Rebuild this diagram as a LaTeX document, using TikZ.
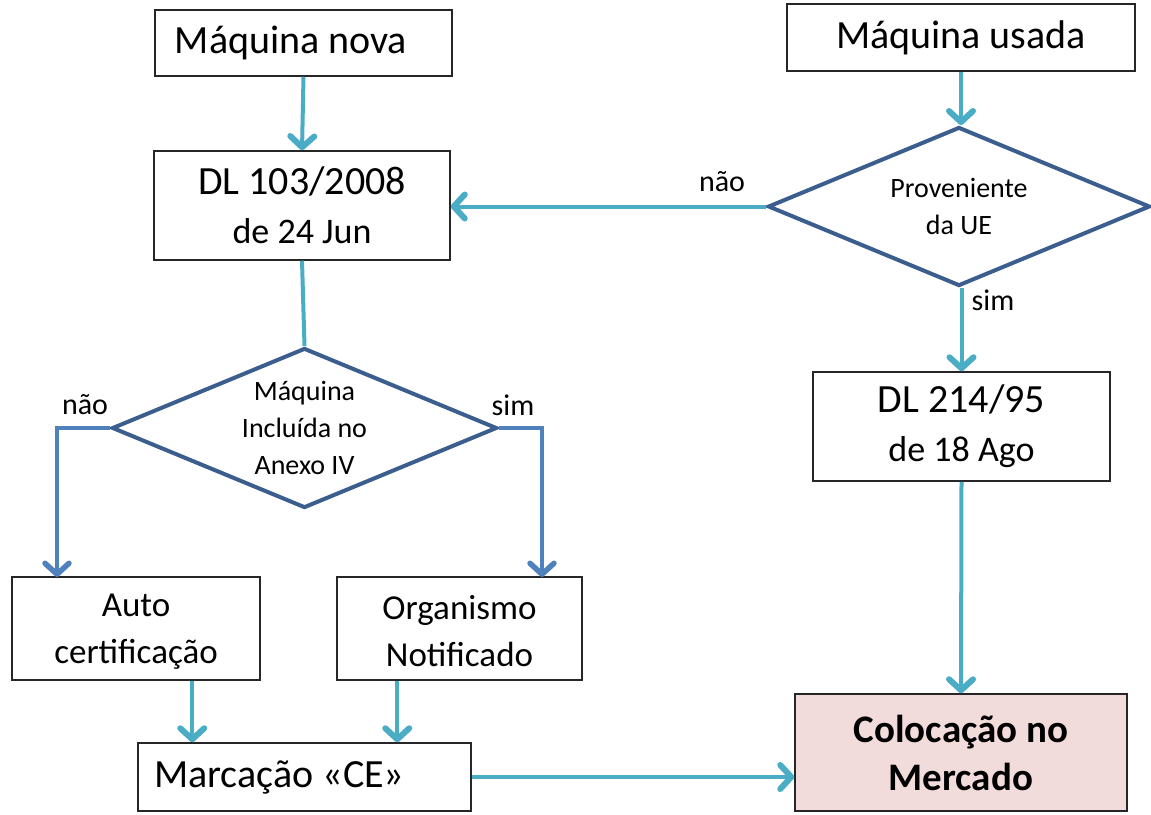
\documentclass[tikz,border=0pt]{standalone}
\usepackage{fontspec}
\setmainfont{Carlito}
\usetikzlibrary{arrows.meta,shapes.geometric,calc}
\definecolor{teal}{HTML}{4BACC6}
\definecolor{dblue}{HTML}{3B5E8E}
\definecolor{mblue}{HTML}{4F81BD}
\definecolor{pink}{HTML}{F2DCDB}
\begin{document}
\begin{tikzpicture}[x=1pt,y=-1pt,
  box/.style={draw=black!85,line width=1.5pt,rectangle,inner sep=0pt,align=center},
  dia/.style={draw=dblue,line width=4pt,diamond,inner sep=0pt},
  conn/.style={draw=teal,line width=4pt,-{Straight Barb[length=11pt,width=24pt,line width=6pt,round]}},
  plain/.style={draw=teal,line width=4pt},
  bconn/.style={draw=mblue,line width=3.5pt,-{Straight Barb[length=11pt,width=24pt,line width=5.5pt,round]}},
  big/.style={font=\fontsize{40}{44}\selectfont},
  mid/.style={font=\fontsize{35}{47}\selectfont},
  dltxt/.style={font=\fontsize{36}{49}\selectfont},
  small/.style={font=\fontsize{28}{37}\selectfont},
  lab/.style={font=\fontsize{30}{32}\selectfont,inner sep=0pt}]
\useasboundingbox (0,0) rectangle (1151,814);
% boxes
\node[box,minimum width=297pt,minimum height=66pt] (nova) at (303.5,43) {};
\node[big,inner sep=0pt] (novat) at (291,43) {Máquina nova};
\node[box,dltxt,minimum width=296pt,minimum height=109pt] (dl1) at (302,205.5)
  {{\fontsize{40}{49}\selectfont DL 103/2008}\\de 24 Jun};
\node[dia,minimum width=385pt,minimum height=160pt] (d1) at (304.5,428) {};
\node[small,align=center] (d1t) at (d1) {Máquina\\Incluída no\\Anexo IV};
\node[box,minimum width=248pt,minimum height=103pt] (auto) at (136,628.5) {};
\node[mid,align=center,inner sep=0pt] (autot) at (136,632) {Auto\\certificação};
\node[box,minimum width=245pt,minimum height=103pt] (org) at (459.5,628.5) {};
\node[mid,align=center,inner sep=0pt] (orgt) at (459.5,631.5) {Organismo\\Notificado};
\node[box,minimum width=333pt,minimum height=68pt] (marc) at (304.5,777) {};
\node[big,inner sep=0pt,anchor=west] (marct) at (154,777) {Marcação «CE»};
\node[box,fill=pink,minimum width=332pt,minimum height=117pt,font=\bfseries\fontsize{39}{48}\selectfont] (col) at (961,752.5) {Colocação no\\Mercado};
\node[box,big,minimum width=348pt,minimum height=67pt] (usada) at (961,37.5) {Máquina usada};
\node[dia,minimum width=382pt,minimum height=159pt] (d2) at (959,206.5) {};
\node[small,align=center] (d2t) at (d2) {Proveniente\\da UE};
\node[box,dltxt,minimum width=297pt,minimum height=109pt] (dl2) at (961.5,426.5)
  {{\fontsize{40}{49}\selectfont DL 214/95}\\de 18 Ago};
% labels
\node[lab] (l1) at (85,405) {não};
\node[lab] (l2) at (513,405) {sim};
\node[lab] (l3) at (722,182) {não};
\node[lab] (l4) at (993,300) {sim};
% coordinates
\coordinate (aIn) at (57,577);
\coordinate (oIn) at (542,577);
% connectors
\draw[conn] (nova.south) -- (dl1.north);
\draw[plain] (dl1.south) -- (d1.north);
\draw[bconn] (d1.west) -| (aIn);
\draw[bconn] (d1.east) -| (oIn);
\draw[conn] ($(auto.south west)+(181,0)$) -- ($(marc.north west)+(55,0)$);
\draw[conn] ($(org.south west)+(61,0)$) -- ($(marc.north west)+(260,0)$);
\draw[conn] (marc.east) -- (col.west |- marc.east);
\draw[conn] (usada.south) -- (usada.south |- d2.north);
\draw[conn] (d2.west) -- (dl1.east |- d2.west);
\draw[conn] (dl2.north |- d2.south) -- (dl2.north);
\draw[conn] (dl2.south) -- (col.north);
\end{tikzpicture}
\end{document}
